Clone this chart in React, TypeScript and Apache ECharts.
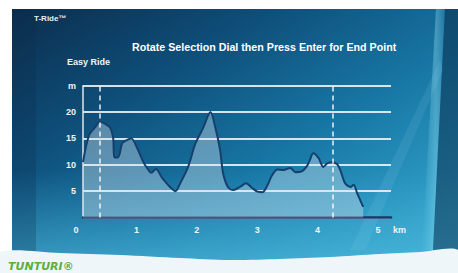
import React, { useEffect, useRef } from "react";
import * as echarts from "echarts";

// distance (km) and elevation (m)
const distanceKm = [0, 0.1, 0.2, 0.28, 0.36, 0.45, 0.5, 0.52, 0.58, 0.65, 0.71, 0.8, 0.9, 1.0, 1.06, 1.13, 1.21, 1.31, 1.44, 1.53, 1.61, 1.74, 1.86, 1.99, 2.11, 2.19, 2.27, 2.32, 2.4, 2.49, 2.6, 2.7, 2.8, 2.89, 2.97, 3.05, 3.13, 3.22, 3.32, 3.43, 3.52, 3.63, 3.71, 3.76, 3.81, 3.9, 3.98, 4.05, 4.13, 4.21, 4.26, 4.34, 4.43, 4.48, 4.54, 4.59, 4.64];
const elevationM = [10.5, 15.6, 17.1, 18.1, 17.8, 17.0, 15.0, 11.4, 11.4, 14.1, 14.6, 15.0, 13.1, 10.5, 9.4, 8.5, 9.2, 7.5, 5.8, 5.0, 6.5, 9.6, 14.0, 17.0, 20.0, 17.1, 12.8, 8.4, 5.8, 5.2, 5.8, 6.5, 5.6, 4.9, 4.8, 6.0, 8.0, 9.1, 9.0, 9.4, 8.6, 8.8, 9.8, 11.0, 12.2, 11.3, 9.6, 10.3, 10.5, 10.1, 9.0, 6.5, 5.8, 6.2, 4.6, 3.3, 2.0];
const startEndMarkersKm = [0.265, 4.13];
const yTicks = [0, 5, 10, 15, 20, 25];
const yTickLabels = ["", "5", "10", "15", "20", "m"];
const xTicks = [0, 1, 2, 3, 4, 5];

const titleText = "Rotate Selection Dial then Press Enter for End Point";

export default function App() {
  const ref = useRef<HTMLDivElement>(null);
  useEffect(() => {
    if (!ref.current) return;
    const chart = echarts.init(ref.current, null, { renderer: "svg" });
    const W = 458;
    const H = 273;
    const option: any = {
      animation: false,
      graphic: [
        {
          type: "rect",
          z: -10,
          silent: true,
          shape: { x: 0, y: 0, width: W, height: H },
          style: {
            fill: new echarts.graphic.LinearGradient(0, 0, 1, 1, [
              { offset: 0, color: "#0b2a47" },
              { offset: 0.3, color: "#0e4d78" },
              { offset: 0.6, color: "#1878a6" },
              { offset: 1, color: "#3cb4da" },
            ]),
          },
        },
        {
          type: "rect",
          z: -9,
          silent: true,
          shape: { x: 0, y: 170, width: W, height: 90 },
          style: {
            fill: new echarts.graphic.LinearGradient(0, 0, 0, 1, [
              { offset: 0, color: "rgba(60,170,210,0)" },
              { offset: 1, color: "rgba(80,185,218,0.6)" },
            ]),
          },
        },
        {
          type: "rect",
          z: -9,
          silent: true,
          shape: { x: 12, y: 9, width: 24, height: 245 },
          style: { fill: "rgba(10,45,75,0.25)" },
        },
        {
          type: "polygon",
          z: -8,
          silent: true,
          shape: { points: [[436, 9], [445, 9], [433, 250], [422, 250]] },
          style: {
            fill: new echarts.graphic.LinearGradient(0, 0, 1, 0, [
              { offset: 0, color: "rgba(150,225,245,0)" },
              { offset: 0.6, color: "rgba(160,230,248,0.35)" },
              { offset: 1, color: "rgba(150,225,245,0.1)" },
            ]),
          },
        },
        {
          type: "polygon",
          z: -8,
          silent: true,
          shape: { points: [[445, 9], [458, 9], [458, 250], [433, 250]] },
          style: { fill: "rgba(10,40,70,0.5)" },
        },
        {
          type: "polygon",
          z: -8,
          silent: true,
          shape: { points: [[350, 250], [440, 60], [443, 70], [365, 250]] },
          style: { fill: "rgba(170,230,250,0.1)" },
        },
        // white frame
        {
          type: "rect",
          z: -5,
          silent: true,
          shape: { x: 0, y: 0, width: W, height: 9 },
          style: { fill: "#ffffff" },
        },
        {
          type: "rect",
          z: -5,
          silent: true,
          shape: { x: 0, y: 0, width: 12, height: H },
          style: { fill: "#ffffff" },
        },
        {
          type: "polygon",
          z: -5,
          silent: true,
          shape: {
            points: [
              [0, 252], [60, 253], [120, 255], [180, 258], [230, 260],
              [280, 259], [330, 257], [380, 254], [420, 252], [458, 250],
              [458, 273], [0, 273],
            ],
            smooth: 0.3,
          },
          style: { fill: "#eef6fa" },
        },
        {
          type: "text",
          silent: true,
          left: 8,
          top: 261,
          style: {
            text: "TUNTURI®",
            fill: "#5cae3c",
            font: "italic bold 11px 'DejaVu Sans', sans-serif",
          },
        },
        {
          type: "text",
          silent: true,
          left: 34,
          top: 14,
          style: {
            text: "T-Ride™",
            fill: "#e8eef3",
            font: "bold 8px 'Liberation Sans', Arial, sans-serif",
          },
        },
        {
          type: "text",
          silent: true,
          left: 67,
          top: 57,
          style: {
            text: "Easy Ride",
            fill: "#eef3f7",
            font: "bold 9px 'Liberation Sans', Arial, sans-serif",
          },
        },
      ],
      title: {
        text: titleText,
        left: 127,
        top: 36,
        textStyle: {
          color: "#ffffff",
          fontSize: 10.7,
          fontWeight: "bold",
          fontFamily: "'Liberation Sans', Arial, sans-serif",
        },
      },
      grid: { left: 83, right: 67, top: 85.7, bottom: 55.5, containLabel: false },
      xAxis: {
        type: "value",
        min: 0,
        max: 5.1,
        interval: 1,
        name: "km",
        nameLocation: "end",
        nameGap: 2,
        nameTextStyle: {
          color: "#eef4f8",
          fontSize: 9,
          fontWeight: "bold",
          verticalAlign: "top",
          padding: [8, 0, 0, 0],
          fontFamily: "'Liberation Sans', Arial, sans-serif",
        },
        axisLine: { show: true, lineStyle: { color: "#123a66", width: 2.5 } },
        axisTick: { show: false },
        splitLine: { show: false },
        axisLabel: {
          color: "#eef4f8",
          fontSize: 9,
          fontWeight: "bold",
          margin: 8,
          padding: [0, 14, 0, 0],
          fontFamily: "'Liberation Sans', Arial, sans-serif",
          formatter: (v: number) => (xTicks.includes(v) ? String(v) : ""),
        },
      },
      yAxis: {
        type: "value",
        min: 0,
        max: 25,
        interval: 5,
        axisLine: { show: true, lineStyle: { color: "#dfe6ea", width: 1.5 } },
        axisTick: { show: false },
        splitLine: { show: true, lineStyle: { color: "rgba(235,242,246,0.9)", width: 2 } },
        axisLabel: {
          color: "#eef4f8",
          fontSize: 9,
          fontWeight: "bold",
          margin: 7,
          fontFamily: "'Liberation Sans', Arial, sans-serif",
          formatter: (v: number) => {
            const i = yTicks.indexOf(v);
            return i >= 0 ? yTickLabels[i] : "";
          },
        },
      },
      series: [
        {
          type: "line",
          data: distanceKm.map((d, i) => [d, elevationM[i]]),
          smooth: 0.3,
          symbol: "none",
          lineStyle: { color: "#163f6e", width: 2 },
          areaStyle: { color: "rgba(215,230,240,0.55)" },
          markLine: {
            silent: true,
            symbol: "none",
            label: { show: false },
            lineStyle: { color: "rgba(255,255,255,0.9)", width: 1.5, type: [5, 4] },
            data: startEndMarkersKm.map((x) => ({ xAxis: x })),
          },
        },
      ],
    };
    chart.setOption(option);
    return () => chart.dispose();
  }, []);
  return <div ref={ref} style={{ width: 458, height: 273, position: "absolute", left: 0, top: 0 }} />;
}
